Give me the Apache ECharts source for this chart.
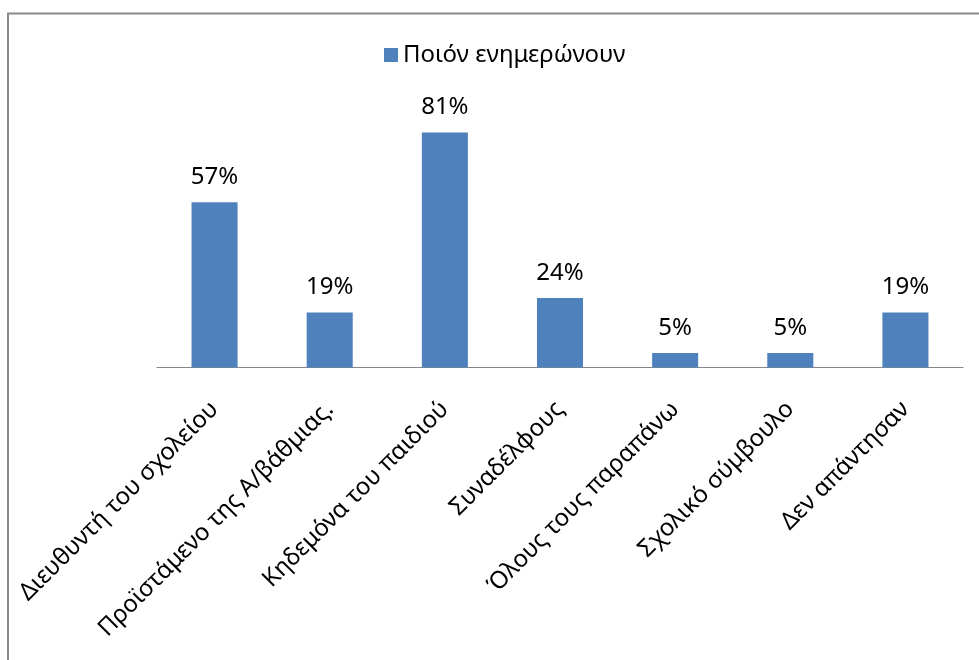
<!DOCTYPE html>
<html>
<head>
<meta charset="utf-8">
<script src="https://cdn.jsdelivr.net/npm/echarts@6/dist/echarts.min.js"></script>
<style>
  html, body { margin: 0; padding: 0; background: #fff; }
  #chart { width: 979px; height: 660px; }
</style>
</head>
<body>
<div id="chart"></div>
<script>
// Categories and percentages
const categories = [
  'Διευθυντή του σχολείου',
  'Προϊστάμενο της Α/βάθμιας.',
  'Κηδεμόνα του παιδιού',
  'Συναδέλφους',
  'Όλους τους παραπάνω',
  'Σχολικό σύμβουλο',
  'Δεν απάντησαν'
];
const values = [57, 19, 81, 24, 5, 5, 19];
const seriesName = 'Ποιόν ενημερώνουν';

const FONT = '"Noto Sans", "DejaVu Sans", sans-serif';
const chart = echarts.init(document.getElementById('chart'), null, { renderer: 'canvas' });

chart.setOption({
  animation: false,
  backgroundColor: '#ffffff',
  legend: {
    data: [seriesName],
    top: 38,
    left: 379,
    itemWidth: 14,
    itemHeight: 14,
    itemGap: 6,
    icon: 'rect',
    textStyle: { fontFamily: FONT, fontSize: 24, color: '#000' }
  },
  grid: { left: 157, right: 16, top: 77.5, bottom: 292.5, containLabel: false },
  xAxis: {
    type: 'category',
    data: categories,
    axisLine: { show: true, lineStyle: { color: '#868686', width: 1 } },
    axisTick: { show: false },
    axisLabel: {
      interval: 0,
      rotate: 45,
      margin: 38,
      fontFamily: FONT,
      fontSize: 24,
      color: '#000'
    }
  },
  yAxis: {
    type: 'value',
    min: 0,
    max: 100,
    show: false,
    splitLine: { show: false }
  },
  series: [{
    name: seriesName,
    type: 'bar',
    data: values,
    barWidth: '40%',
    itemStyle: { color: '#4F81BD' },
    label: {
      show: true,
      position: 'top',
      distance: 13,
      formatter: '{c}%',
      fontFamily: FONT,
      fontSize: 24,
      color: '#000'
    }
  }],
  graphic: [
    { type: 'line', shape: { x1: 7, y1: 13.5, x2: 979, y2: 13.5 }, style: { stroke: '#8a8a8a', lineWidth: 2 }, silent: true },
    { type: 'line', shape: { x1: 8, y1: 13, x2: 8, y2: 660 }, style: { stroke: '#8a8a8a', lineWidth: 2 }, silent: true }
  ]
});
</script>
</body>
</html>
